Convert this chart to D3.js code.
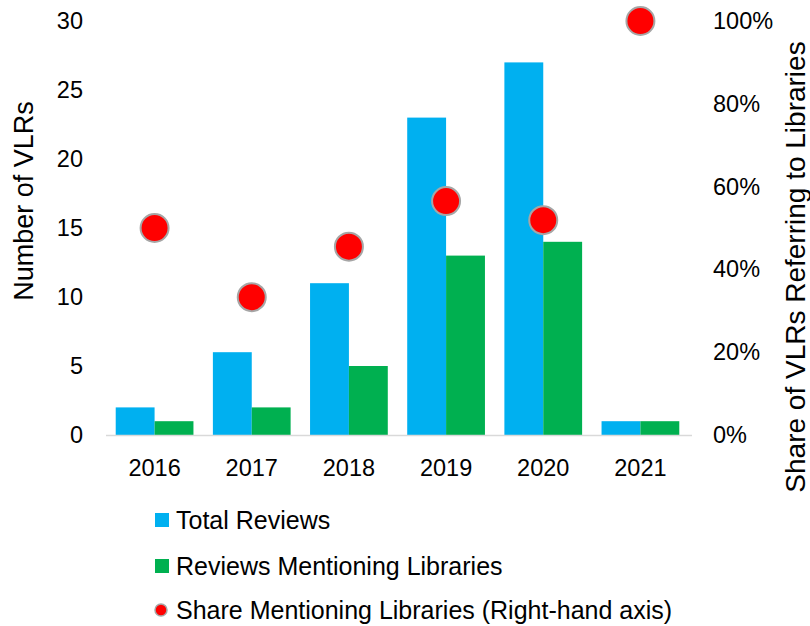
<!DOCTYPE html>
<html>
<head>
<meta charset="utf-8">
<script src="https://cdn.jsdelivr.net/npm/d3@7"></script>
<style>
	body { margin: 0; background: #fff; }
	text { font-family: "Liberation Sans", Arial, sans-serif; fill: #000; }
</style>
</head>
<body>
<div id="chart"></div>
<script>
var years = ['2016', '2017', '2018', '2019', '2020', '2021'];
var totalReviews = [2, 6, 11, 23, 27, 1];
var libraryReviews = [1, 2, 5, 13, 14, 1];
var shareLibraries = [0.50, 0.333, 0.455, 0.565, 0.519, 1.0];
var leftTicks = [0, 5, 10, 15, 20, 25, 30];
var rightTicks = [0, 0.2, 0.4, 0.6, 0.8, 1.0];
var legendLabels = ['Total Reviews', 'Reviews Mentioning Libraries', 'Share Mentioning Libraries (Right-hand axis)'];

var colors = { total: '#00b0f0', library: '#00b050', share: '#ff0000' };

var svgWidth = 810, svgHeight = 626;
var plot = { left: 106, right: 689, top: 21, bottom: 435 };
var tickFont = 23.5;

var svg = d3.select('#chart').append('svg')
	.attr('width', svgWidth)
	.attr('height', svgHeight);

var x = d3.scaleBand()
	.domain(years)
	.range([plot.left, plot.right])
	.paddingInner(0.2)
	.paddingOuter(0.1);

var y = d3.scaleLinear().domain([0, 30]).range([plot.bottom, plot.top]);
var y2 = d3.scaleLinear().domain([0, 1]).range([plot.bottom, plot.top]);

var sub = d3.scaleBand().domain(['total', 'library']).range([0, x.bandwidth()]);

// bars
var groups = svg.append('g').selectAll('g')
	.data(years)
	.enter().append('g')
	.attr('transform', function(d) { return 'translate(' + x(d) + ',0)'; });

groups.append('rect')
	.attr('x', sub('total'))
	.attr('width', sub.bandwidth())
	.attr('y', function(d, i) { return y(totalReviews[i]); })
	.attr('height', function(d, i) { return y(0) - y(totalReviews[i]); })
	.attr('fill', colors.total);

groups.append('rect')
	.attr('x', sub('library'))
	.attr('width', sub.bandwidth())
	.attr('y', function(d, i) { return y(libraryReviews[i]); })
	.attr('height', function(d, i) { return y(0) - y(libraryReviews[i]); })
	.attr('fill', colors.library);

// baseline
svg.append('line')
	.attr('x1', plot.left).attr('x2', plot.right + 3)
	.attr('y1', y(0) + 0.5).attr('y2', y(0) + 0.5)
	.attr('stroke', '#d9d9d9').attr('stroke-width', 1.5);

// share dots
svg.append('g').selectAll('circle')
	.data(years)
	.enter().append('circle')
	.attr('cx', function(d) { return x(d) + x.bandwidth() / 2; })
	.attr('cy', function(d, i) { return y2(shareLibraries[i]); })
	.attr('r', 14)
	.attr('fill', colors.share)
	.attr('stroke', '#a6a6a6')
	.attr('stroke-width', 2);

// left axis
var leftAxis = svg.append('g')
	.attr('transform', 'translate(83,0)')
	.call(d3.axisLeft(y).tickValues(leftTicks).tickSize(0).tickPadding(0));
leftAxis.select('.domain').remove();
leftAxis.selectAll('text').attr('font-size', tickFont).attr('font-family', 'Liberation Sans, Arial, sans-serif');

// right axis
var rightAxis = svg.append('g')
	.attr('transform', 'translate(713,0)')
	.call(d3.axisRight(y2).tickValues(rightTicks).tickFormat(d3.format('.0%')).tickSize(0).tickPadding(0));
rightAxis.select('.domain').remove();
rightAxis.selectAll('text').attr('font-size', tickFont).attr('font-family', 'Liberation Sans, Arial, sans-serif');

// x axis
var xAxis = svg.append('g')
	.attr('transform', 'translate(0,459)')
	.call(d3.axisBottom(x).tickSize(0).tickPadding(0));
xAxis.select('.domain').remove();
xAxis.selectAll('text').attr('font-size', tickFont).attr('font-family', 'Liberation Sans, Arial, sans-serif');

// axis titles
svg.append('text')
	.attr('transform', 'translate(33,201) rotate(-90)')
	.attr('text-anchor', 'middle')
	.attr('font-size', 27)
	.text('Number of VLRs');

svg.append('text')
	.attr('transform', 'translate(805,267) rotate(-90)')
	.attr('text-anchor', 'middle')
	.attr('font-size', 28)
	.text('Share of VLRs Referring to Libraries');

// legend
var legend = svg.append('g').attr('transform', 'translate(155,0)');
var legendY = [520, 566, 610];

legend.append('rect')
	.attr('x', 0).attr('y', legendY[0] - 7)
	.attr('width', 14).attr('height', 14)
	.attr('fill', colors.total);
legend.append('rect')
	.attr('x', 0).attr('y', legendY[1] - 7)
	.attr('width', 14).attr('height', 14)
	.attr('fill', colors.library);
legend.append('circle')
	.attr('cx', 6).attr('cy', legendY[2])
	.attr('r', 6)
	.attr('fill', colors.share)
	.attr('stroke', '#a6a6a6')
	.attr('stroke-width', 1.5);

legend.selectAll('text.lg')
	.data(legendLabels)
	.enter().append('text')
	.attr('class', 'lg')
	.attr('x', 21)
	.attr('y', function(d, i) { return legendY[i]; })
	.attr('dy', '0.35em')
	.attr('font-size', 25)
	.text(function(d) { return d; });
</script>
</body>
</html>
